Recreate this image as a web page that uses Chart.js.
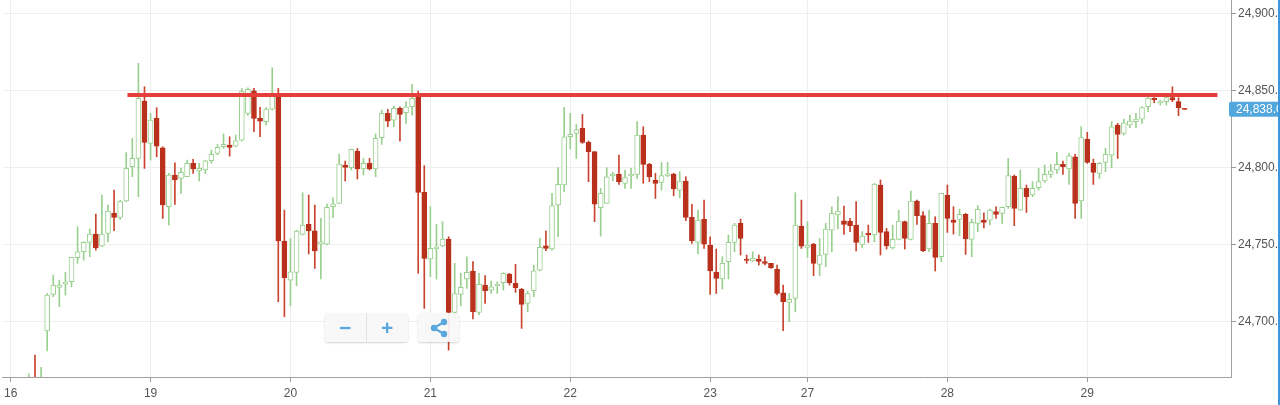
<!DOCTYPE html>
<html>
<head>
<meta charset="utf-8">
<script src="https://cdn.jsdelivr.net/npm/chart.js@4.4.1/dist/chart.umd.min.js"></script>
<style>
  html, body { margin: 0; padding: 0; background: #fff; overflow: hidden; }
  #wrap { position: relative; width: 1280px; height: 405px; }
  #edge { position: absolute; right: 0; top: 0; width: 2px; height: 405px; background: #3d97dd; }
  .btns { position: absolute; top: 313px; height: 29px; background: rgba(247,247,247,0.92);
          border-radius: 3px; box-shadow: 0 1px 2px rgba(0,0,0,0.18); display: flex; }
  .btns span { display: flex; align-items: center; justify-content: center;
               color: #5aa8dd; font: bold 21px Arial, "Liberation Sans", sans-serif; }
</style>
</head>
<body>
<div id="wrap">
  <canvas id="chart"></canvas>
  <div class="btns" style="left:325px;width:83px;">
    <span style="width:41px;">&minus;</span>
    <span style="width:42px;border-left:1px solid #e2e2e2;">+</span>
  </div>
  <div class="btns" style="left:418px;width:41px;">
    <span style="width:41px;">
      <svg width="20" height="20" viewBox="0 0 20 20">
        <line x1="15" y1="4" x2="5" y2="10" stroke="#5aa8dd" stroke-width="2.2"/>
        <line x1="5" y1="10" x2="15" y2="16" stroke="#5aa8dd" stroke-width="2.2"/>
        <circle cx="15" cy="4" r="3.2" fill="#5aa8dd"/>
        <circle cx="5" cy="10" r="3.2" fill="#5aa8dd"/>
        <circle cx="15" cy="16" r="3.2" fill="#5aa8dd"/>
      </svg>
    </span>
  </div>
  <div id="edge"></div>
</div>
<script>
// hourly candles, index 0 = first slot of the "16" session
const dayTicks = [0, 23, 46, 69, 92, 115, 131, 154, 177];
const dayLabels = ['16', '19', '20', '21', '22', '23', '27', '28', '29'];
const priceTicks = [24700, 24750, 24800, 24850, 24900];
const firstCandle = 3;

const open = [
  24650, 24662, 24650,
  24693.9, 24717.7, 24722.3, 24724.4, 24725.9, 24741.5, 24745.4, 24751.5, 24756.9, 24749.3,
  24757.4, 24770.4, 24767.8, 24778.4, 24800.7, 24806.1, 24843.4, 24815.9, 24832.1, 24813.0,
  24774.7, 24795.3, 24793.1, 24794.2, 24802.9, 24797.9, 24798.6, 24804.6, 24809.4, 24813.7,
  24814.8, 24814.1, 24818.0, 24835.4, 24850.1, 24832.1, 24830.0, 24838.2, 24847.3, 24752.4,
  24727.0, 24732.0, 24756.7, 24763.2, 24759.1, 24750.4, 24750.4, 24774.7, 24776.9, 24801.8,
  24800.1, 24810.9, 24799.2, 24802.9, 24799.2, 24819.6, 24835.4, 24831.0, 24838.6, 24835.8,
  24839.7, 24847.3, 24784.0, 24740.7, 24747.2, 24749.3, 24753.7, 24706.0, 24717.7, 24727.7,
  24732.9, 24706.0, 24723.8, 24720.5, 24723.4, 24725.3, 24730.9, 24724.9, 24721.0, 24711.9,
  24720.1, 24733.5, 24749.3, 24747.2, 24775.8, 24788.8, 24820.2, 24822.4, 24825.6, 24816.5,
  24810.5, 24774.1, 24776.9, 24794.7, 24796.0, 24789.9, 24794.9, 24795.7, 24821.3, 24802.2,
  24792.1, 24790.5, 24794.9, 24796.0, 24785.5, 24791.4, 24767.8, 24751.5, 24766.5, 24749.8,
  24732.0, 24727.7, 24738.9, 24751.5, 24763.9, 24740.7, 24739.4, 24740.7, 24739.0, 24737.9,
  24734.0, 24718.8, 24712.5, 24715.1, 24762.1, 24748.3, 24750.4, 24737.2, 24743.7, 24759.5,
  24769.3, 24765.6, 24765.4, 24762.8, 24750.2, 24757.4, 24756.3, 24788.8, 24758.5, 24748.0,
  24753.5, 24765.0, 24753.5, 24778.4, 24768.9, 24747.2, 24763.9, 24742.2, 24782.3, 24766.0,
  24766.5, 24769.7, 24753.5, 24763.9, 24766.0, 24766.0, 24771.5, 24770.4, 24774.7, 24794.7,
  24772.5, 24786.6, 24782.3, 24787.1, 24791.4, 24795.7, 24798.6, 24802.2, 24799.2, 24807.2,
  24778.4, 24818.7, 24802.9, 24796.4, 24803.5, 24808.3, 24827.8, 24822.4, 24827.8, 24830.0,
  24831.7, 24839.7, 24845.1, 24842.3, 24843.0, 24845.6, 24843.0, 24838.6
];
const high = [
  24666, 24678.3, 24670.3,
  24718.3, 24730.3, 24727.0, 24732.0, 24741.8, 24761.7, 24751.9, 24760.2, 24769.9, 24782.3,
  24775.8, 24785.5, 24779.0, 24809.8, 24819.1, 24867.9, 24852.7, 24835.4, 24839.1, 24813.7,
  24796.4, 24803.3, 24799.6, 24805.0, 24805.5, 24802.9, 24805.0, 24811.5, 24815.2, 24822.0,
  24820.2, 24821.3, 24851.6, 24852.0, 24851.6, 24839.3, 24839.1, 24865.1, 24851.6, 24772.5,
  24754.1, 24759.5, 24783.8, 24782.3, 24775.8, 24767.1, 24776.4, 24780.5, 24808.9, 24804.4,
  24812.2, 24812.6, 24806.1, 24806.1, 24822.0, 24837.5, 24838.0, 24840.1, 24839.7, 24843.0,
  24854.2, 24849.9, 24801.4, 24774.7, 24763.2, 24765.0, 24755.2, 24737.9, 24731.4, 24742.2,
  24739.0, 24731.4, 24729.9, 24726.4, 24725.9, 24731.8, 24731.4, 24737.2, 24721.6, 24719.9,
  24736.8, 24754.1, 24758.9, 24783.4, 24800.1, 24839.3, 24835.4, 24828.2, 24834.7, 24817.4,
  24810.5, 24786.6, 24800.1, 24797.0, 24808.3, 24798.6, 24799.6, 24830.0, 24826.7, 24802.9,
  24796.4, 24803.5, 24803.5, 24796.4, 24797.5, 24794.2, 24776.2, 24772.5, 24779.0, 24755.2,
  24747.2, 24742.2, 24756.3, 24763.9, 24766.7, 24743.3, 24745.4, 24743.3, 24742.2, 24737.9,
  24736.8, 24723.8, 24718.3, 24783.8, 24779.0, 24765.0, 24750.9, 24754.1, 24763.9, 24774.7,
  24781.2, 24775.1, 24767.1, 24778.0, 24758.5, 24762.8, 24789.9, 24792.1, 24760.6, 24762.8,
  24772.5, 24765.4, 24784.9, 24779.0, 24771.5, 24772.5, 24768.2, 24783.4, 24788.8, 24774.7,
  24773.2, 24770.4, 24766.7, 24775.4, 24770.8, 24773.2, 24774.7, 24774.7, 24806.1, 24795.3,
  24798.6, 24788.8, 24791.0, 24799.6, 24801.8, 24802.2, 24810.0, 24804.4, 24809.4, 24808.7,
  24826.7, 24823.1, 24805.7, 24803.5, 24812.6, 24830.0, 24828.9, 24831.7, 24834.3, 24835.4,
  24839.7, 24845.6, 24845.6, 24844.1, 24846.2, 24852.7, 24845.6, 24838.6
];
const low = [
  24640, 24640, 24640,
  24680.9, 24716.2, 24709.7, 24717.3, 24722.7, 24737.9, 24740.0, 24742.2, 24746.5, 24748.7,
  24751.9, 24759.1, 24766.5, 24778.0, 24794.2, 24781.2, 24799.6, 24805.0, 24807.2, 24767.1,
  24762.8, 24776.2, 24783.4, 24794.2, 24796.4, 24791.4, 24796.2, 24802.9, 24808.3, 24812.6,
  24807.6, 24813.7, 24817.4, 24834.0, 24823.5, 24820.2, 24827.8, 24837.5, 24712.9, 24703.2,
  24710.3, 24723.3, 24756.3, 24744.0, 24734.6, 24727.7, 24749.8, 24767.6, 24776.9, 24791.4,
  24798.6, 24792.7, 24795.3, 24798.6, 24794.2, 24815.2, 24826.7, 24826.7, 24817.4, 24828.9,
  24834.3, 24731.4, 24708.6, 24729.2, 24727.7, 24748.7, 24681.5, 24702.1, 24710.3, 24721.6,
  24701.7, 24704.3, 24711.9, 24718.3, 24718.3, 24720.5, 24723.8, 24719.0, 24695.6, 24706.4,
  24716.2, 24732.9, 24746.1, 24746.5, 24755.2, 24784.5, 24812.2, 24806.1, 24815.9, 24791.0,
  24765.0, 24755.6, 24776.9, 24791.4, 24789.2, 24786.6, 24786.6, 24793.1, 24789.9, 24791.0,
  24780.1, 24785.5, 24794.2, 24781.9, 24780.5, 24765.6, 24750.9, 24744.0, 24747.6, 24717.7,
  24718.3, 24721.2, 24727.7, 24745.4, 24743.3, 24737.9, 24739.0, 24736.8, 24736.8, 24734.6,
  24717.3, 24694.1, 24699.9, 24706.4, 24747.6, 24741.8, 24729.9, 24729.9, 24735.7, 24745.4,
  24760.2, 24756.7, 24758.5, 24745.9, 24748.0, 24751.5, 24751.9, 24743.3, 24747.2, 24747.2,
  24753.1, 24747.2, 24753.1, 24763.2, 24745.4, 24745.4, 24732.9, 24739.0, 24758.0, 24756.9,
  24755.8, 24743.7, 24742.2, 24758.5, 24761.0, 24762.8, 24767.1, 24763.9, 24773.6, 24762.4,
  24772.5, 24771.0, 24781.2, 24785.5, 24790.5, 24793.6, 24796.4, 24795.7, 24789.2, 24767.1,
  24767.1, 24802.9, 24789.2, 24793.1, 24797.5, 24800.1, 24806.1, 24821.3, 24826.1, 24826.1,
  24828.9, 24836.5, 24842.3, 24840.8, 24840.8, 24843.0, 24833.9, 24838.0
];
const close = [
  24660, 24650, 24660,
  24717.3, 24723.8, 24723.8, 24725.9, 24741.8, 24745.4, 24751.5, 24756.9, 24748.0, 24756.9,
  24771.9, 24767.8, 24778.0, 24799.6, 24806.1, 24845.1, 24816.5, 24831.0, 24814.1, 24775.8,
  24795.3, 24792.1, 24797.0, 24802.9, 24799.2, 24799.6, 24804.6, 24808.7, 24813.3, 24815.2,
  24813.3, 24817.6, 24849.5, 24851.0, 24832.1, 24830.4, 24838.2, 24847.3, 24752.4, 24728.5,
  24732.4, 24758.9, 24762.8, 24759.1, 24745.9, 24751.9, 24774.3, 24776.6, 24802.4, 24800.3,
  24812.0, 24799.2, 24802.9, 24799.2, 24819.1, 24835.4, 24830.4, 24838.6, 24834.7, 24839.7,
  24845.1, 24784.0, 24741.1, 24747.6, 24748.7, 24753.7, 24706.0, 24718.3, 24722.3, 24732.0,
  24706.4, 24724.2, 24720.1, 24722.7, 24724.2, 24731.4, 24725.3, 24722.0, 24711.2, 24718.3,
  24733.1, 24748.3, 24747.6, 24775.4, 24789.2, 24820.2, 24821.7, 24824.8, 24816.5, 24810.5,
  24776.4, 24783.4, 24794.2, 24796.0, 24791.0, 24793.6, 24795.7, 24821.3, 24802.2, 24794.2,
  24789.9, 24794.9, 24796.0, 24786.2, 24791.4, 24767.8, 24752.6, 24766.0, 24750.4, 24732.9,
  24728.1, 24737.9, 24751.5, 24762.8, 24754.1, 24739.8, 24741.1, 24739.2, 24737.9, 24735.1,
  24718.3, 24712.9, 24714.5, 24762.8, 24749.1, 24749.8, 24737.9, 24743.3, 24760.2, 24770.4,
  24771.9, 24763.2, 24762.4, 24751.5, 24755.6, 24756.3, 24789.4, 24758.0, 24749.3, 24753.5,
  24765.4, 24754.1, 24778.4, 24768.9, 24746.1, 24763.9, 24741.8, 24783.4, 24767.1, 24764.5,
  24769.7, 24753.7, 24764.5, 24773.0, 24764.5, 24772.5, 24769.7, 24774.3, 24794.9, 24773.6,
  24786.6, 24781.2, 24786.6, 24791.0, 24795.7, 24798.1, 24802.2, 24800.7, 24807.8, 24776.9,
  24819.6, 24803.5, 24797.0, 24802.9, 24808.7, 24826.7, 24821.7, 24829.3, 24830.4, 24831.7,
  24839.1, 24845.1, 24844.1, 24843.4, 24845.6, 24844.1, 24839.1, 24838.0
];

// drawn resistance level and the candle span it covers
const resistance = 24847.3;
const resistanceFrom = 19.2;
const resistanceTo = 198.4;

const green = '#9ad08f';
const red = '#b9301c';
const redWick = '#c9432f';
const up = close.map((c, i) => c >= open[i]);
const fmt = v => v.toLocaleString('en-US', { minimumFractionDigits: 1, maximumFractionDigits: 1 });

const wicks = low.map((l, i) => ({ x: i + firstCandle, y: [l, high[i]] }));
const bodies = open.map((o, i) => ({ x: i + firstCandle, y: [o, close[i]] }));

Chart.defaults.font.family = 'Arial, "Liberation Sans", sans-serif';
Chart.defaults.font.size = 12;
Chart.defaults.color = '#555';

const lastPriceTag = {
  id: 'lastPriceTag',
  afterDraw(chart) {
    const ctx = chart.ctx;
    const last = close[close.length - 1];
    const y = chart.scales.y.getPixelForValue(last);
    const left = chart.chartArea.right - 2;
    ctx.save();
    ctx.fillStyle = '#52a7dd';
    ctx.beginPath();
    ctx.roundRect(left, y - 7.5, chart.width - left + 4, 15, 2);
    ctx.fill();
    ctx.fillStyle = '#fff';
    ctx.textBaseline = 'middle';
    ctx.font = '12px Arial, "Liberation Sans", sans-serif';
    ctx.fillText(fmt(last), left + 7, y + 0.5);
    ctx.restore();
  }
};

new Chart(document.getElementById('chart'), {
  type: 'bar',
  data: {
    datasets: [
      {
        type: 'line',
        data: [{ x: resistanceFrom, y: resistance }, { x: resistanceTo, y: resistance }],
        borderColor: '#e63e3b',
        borderWidth: 4,
        pointRadius: 0,
        order: 0
      },
      {
        data: bodies,
        backgroundColor: up.map(u => u ? '#ffffff' : red),
        borderColor: up.map(u => u ? green : red),
        borderWidth: 1,
        borderSkipped: false,
        barThickness: 5,
        grouped: false,
        order: 1
      },
      {
        data: wicks,
        backgroundColor: up.map(u => u ? green : redWick),
        barThickness: 1,
        grouped: false,
        order: 2
      }
    ]
  },
  options: {
    responsive: true,
    maintainAspectRatio: false,
    animation: false,
    layout: { padding: 0 },
    plugins: { legend: { display: false }, tooltip: { enabled: false } },
    scales: {
      x: {
        type: 'linear',
        min: -1.27,
        max: 200.63,
        offset: false,
        grid: { color: '#eeeeee', tickColor: '#999', tickLength: 5, offset: false },
        border: { display: true, color: '#a0a0a0' },
        ticks: {
          autoSkip: false,
          maxRotation: 0,
          padding: 4,
          callback: v => { const k = dayTicks.indexOf(v); return k < 0 ? '' : dayLabels[k]; }
        },
        afterBuildTicks: s => { s.ticks = dayTicks.map(v => ({ value: v })); },
        afterFit: s => { s.height = 28; }
      },
      y: {
        position: 'right',
        min: 24664,
        max: 24909.1,
        grid: { color: '#eeeeee', tickColor: '#999', tickLength: 5 },
        border: { display: true, color: '#a0a0a0' },
        ticks: { padding: 2, callback: v => fmt(v) },
        afterBuildTicks: s => { s.ticks = priceTicks.map(v => ({ value: v })); },
        afterFit: s => { s.width = 49; s.paddingTop = 0; s.paddingBottom = 0; }
      }
    }
  },
  plugins: [lastPriceTag]
});
</script>
</body>
</html>
